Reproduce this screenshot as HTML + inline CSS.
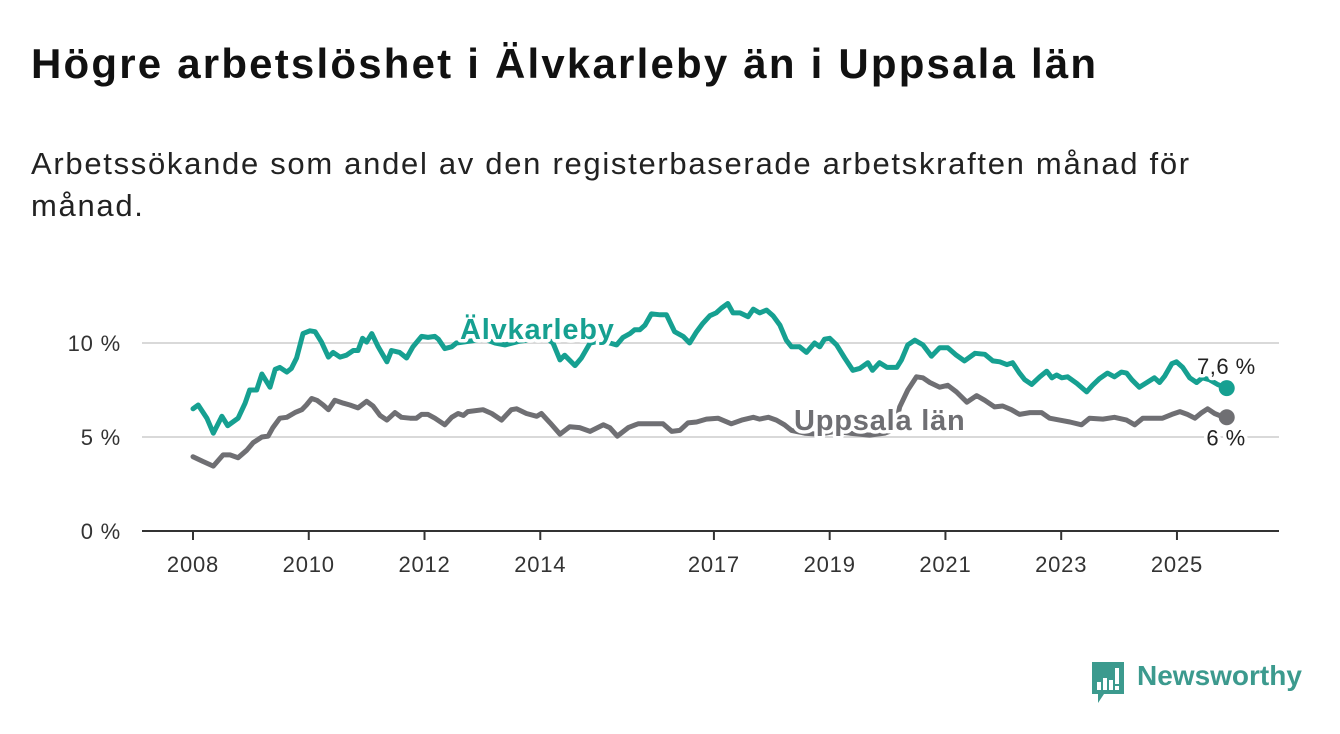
<!DOCTYPE html>
<html><head><meta charset="utf-8">
<style>
html,body{margin:0;padding:0;background:#fff;}
body{width:1340px;height:734px;overflow:hidden;position:relative;font-family:"Liberation Sans",sans-serif;color:#111;}
#title{position:absolute;left:31px;top:40px;font-size:42px;font-weight:bold;margin:0;letter-spacing:2.2px;white-space:nowrap;}
#subtitle{position:absolute;left:31px;top:143px;font-size:31px;line-height:42px;width:1240px;margin:0;color:#222;letter-spacing:1.7px;}
svg{position:absolute;left:0;top:0;}
</style></head><body>
<h1 id="title">Högre arbetslöshet i Älvkarleby än i Uppsala län</h1>
<p id="subtitle">Arbetssökande som andel av den registerbaserade arbetskraften månad för månad.</p>
<svg id="chart" width="1340" height="734"></svg>
<script>
// years since Jan 2008
const tAlv=[0,0.09,0.24,0.35,0.50,0.60,0.78,0.90,0.98,1.10,1.19,1.33,1.42,1.50,1.62,1.70,1.79,1.90,2.02,2.11,2.22,2.34,2.42,2.54,2.65,2.77,2.85,2.93,3.00,3.09,3.20,3.35,3.43,3.57,3.69,3.80,3.95,4.06,4.18,4.24,4.35,4.47,4.55,4.78,5.04,5.22,5.39,5.65,5.91,6.08,6.22,6.34,6.42,6.60,6.71,6.86,7.03,7.20,7.32,7.43,7.55,7.63,7.72,7.81,7.92,8.07,8.18,8.32,8.47,8.58,8.70,8.81,8.93,9.04,9.13,9.24,9.33,9.45,9.59,9.68,9.79,9.91,10.02,10.14,10.25,10.34,10.48,10.60,10.74,10.83,10.91,11.00,11.12,11.26,11.40,11.52,11.66,11.74,11.86,11.99,12.16,12.24,12.35,12.47,12.61,12.76,12.90,13.04,13.19,13.33,13.51,13.68,13.82,13.94,14.06,14.16,14.28,14.37,14.49,14.63,14.75,14.84,14.92,15.01,15.11,15.27,15.44,15.54,15.66,15.80,15.92,16.04,16.13,16.22,16.35,16.48,16.61,16.70,16.79,16.91,16.99,17.10,17.22,17.34,17.44,17.56,17.70,17.86];
const vAlv=[6.5,6.7,6.0,5.2,6.1,5.6,6.0,6.8,7.5,7.5,8.35,7.65,8.6,8.7,8.45,8.65,9.2,10.5,10.65,10.6,10.05,9.25,9.5,9.25,9.35,9.6,9.6,10.25,10.05,10.5,9.8,9.0,9.6,9.5,9.2,9.8,10.35,10.3,10.35,10.2,9.7,9.8,10.0,10.1,10.2,10.0,9.9,10.1,10.2,10.3,10.0,9.1,9.35,8.8,9.2,10.0,10.1,10.0,9.9,10.3,10.5,10.7,10.7,10.95,11.55,11.5,11.5,10.6,10.35,10.0,10.6,11.05,11.45,11.6,11.85,12.1,11.6,11.6,11.4,11.8,11.6,11.75,11.45,10.95,10.15,9.8,9.8,9.5,10.0,9.8,10.2,10.25,9.9,9.2,8.55,8.65,8.95,8.55,8.95,8.7,8.7,9.1,9.9,10.15,9.9,9.3,9.75,9.75,9.35,9.05,9.45,9.4,9.05,9.0,8.85,8.95,8.4,8.05,7.8,8.2,8.5,8.15,8.3,8.15,8.2,7.85,7.4,7.75,8.1,8.4,8.2,8.45,8.4,8.05,7.65,7.9,8.15,7.9,8.25,8.9,9.0,8.7,8.15,7.9,8.15,8.05,7.8,7.6];
const tUpp=[0,0.17,0.35,0.52,0.64,0.78,0.93,1.04,1.19,1.30,1.38,1.50,1.62,1.76,1.88,1.96,2.05,2.14,2.25,2.34,2.45,2.60,2.71,2.85,3.00,3.11,3.23,3.35,3.49,3.60,3.75,3.86,3.95,4.06,4.18,4.35,4.47,4.58,4.67,4.75,5.01,5.16,5.33,5.50,5.59,5.76,5.94,6.02,6.17,6.34,6.51,6.68,6.86,7.09,7.20,7.33,7.52,7.69,7.92,8.12,8.27,8.41,8.55,8.70,8.87,9.07,9.30,9.48,9.68,9.79,9.94,10.08,10.22,10.34,10.57,10.83,11.09,11.35,11.69,11.95,12.12,12.21,12.35,12.50,12.61,12.73,12.90,13.04,13.19,13.37,13.54,13.68,13.85,13.99,14.14,14.28,14.46,14.66,14.80,14.97,15.15,15.35,15.49,15.72,15.92,16.13,16.27,16.41,16.75,16.91,17.05,17.18,17.31,17.43,17.53,17.65,17.77,17.86];
const vUpp=[3.95,3.7,3.45,4.05,4.05,3.9,4.3,4.7,5.0,5.05,5.5,6.0,6.05,6.3,6.45,6.7,7.05,6.95,6.7,6.45,6.95,6.8,6.7,6.55,6.9,6.65,6.15,5.9,6.3,6.05,6.0,6.0,6.2,6.2,6.0,5.65,6.05,6.25,6.15,6.35,6.45,6.25,5.9,6.45,6.5,6.25,6.1,6.25,5.75,5.15,5.55,5.5,5.3,5.65,5.5,5.05,5.5,5.7,5.7,5.7,5.3,5.35,5.75,5.8,5.95,6.0,5.7,5.9,6.05,5.95,6.05,5.9,5.65,5.35,5.2,5.15,5.3,5.2,5.1,5.2,5.4,6.6,7.5,8.2,8.15,7.9,7.65,7.75,7.4,6.85,7.2,6.95,6.6,6.65,6.45,6.2,6.3,6.3,6.0,5.9,5.8,5.65,6.0,5.95,6.05,5.9,5.65,6.0,6.0,6.2,6.35,6.2,6.0,6.3,6.5,6.25,6.1,6.05];
const yTicks=[0,5,10];
const yTickLabels=["0 %","5 %","10 %"];
const xTicks=[2008,2010,2012,2014,2017,2019,2021,2023,2025];
const endLabels=["7,6 %","6 %"];

const NS="http://www.w3.org/2000/svg";
const svg=document.getElementById('chart');
const X=t=>193+t*57.88;              // t = years since 2008
const XY=yr=>X(yr-2008);
const Y=v=>531-v*18.8;
function mk(tag,attrs,parent){const e=document.createElementNS(NS,tag);for(const k in attrs)e.setAttribute(k,attrs[k]);(parent||svg).appendChild(e);return e;}

yTicks.forEach((v,i)=>{
  if(v>0){const g=mk('line',{x1:142,x2:1279,y1:Y(v),y2:Y(v),stroke:'#d9d9d9','stroke-width':2});
  
  }
  const t=mk('text',{x:121,y:Y(v)+8,'text-anchor':'end','font-size':22,'letter-spacing':0.8,fill:'#333','font-family':'Liberation Sans, sans-serif'});
  t.textContent=yTickLabels[i];
  
  
});
const ax=mk('line',{x1:142,x2:1279,y1:531,y2:531,stroke:'#333','stroke-width':2});


xTicks.forEach(yr=>{
  const tk=mk('line',{x1:XY(yr),x2:XY(yr),y1:531,y2:540,stroke:'#333','stroke-width':2});
  
  
  const t=mk('text',{x:XY(yr),y:572,'text-anchor':'middle','font-size':22,'letter-spacing':0.8,fill:'#333','font-family':'Liberation Sans, sans-serif'});
  t.textContent=yr;
  
  
});
function line(ts,vs,color,name){
  const d=ts.map((t,i)=>(i?'L':'M')+X(t).toFixed(1)+','+Y(vs[i]).toFixed(1)).join('');
  const p=mk('path',{d:d,fill:'none',stroke:color,'stroke-width':5,'stroke-linejoin':'round','stroke-linecap':'round'});
  
  
  const n=ts.length-1;
  const c=mk('circle',{cx:X(ts[n]),cy:Y(vs[n]),r:8,fill:color});
  
  
}
line(tUpp,vUpp,'#6f6f73','uppsala-line');
line(tAlv,vAlv,'#16a091','alvkarleby-line');
function label(txt,x,y,color,size,bold,name,anchor,ls){
  const t=mk('text',{x:x,y:y,'font-size':size,fill:color,'font-weight':bold?'bold':'normal',stroke:'#fff','stroke-width':7,'paint-order':'stroke','stroke-linejoin':'round','text-anchor':anchor||'start','letter-spacing':ls||0,'font-family':'Liberation Sans, sans-serif'});
  t.textContent=txt;
  
  
}
label('Älvkarleby',460,339,'#16a091',29,true,'alvkarleby-label','start',0.8);
label('Uppsala län',794,430,'#6f6f73',29,true,'uppsala-label','start',0.8);
const nA=tAlv.length-1,nU=tUpp.length-1;
label(endLabels[0],X(tAlv[nA])+29,Y(vAlv[nA])-14,'#222',22,false,'alvkarleby-end-value','end',0.5);
label(endLabels[1],X(tUpp[nU])+19,Y(vUpp[nU])+28,'#222',22,false,'uppsala-end-value','end',0.5);
</script>
<div style="position:absolute;left:1090px;top:662px;">
<svg width="36" height="42" viewBox="0 0 36 42" style="position:static">
<path d="M2 0H34V32H14L8 41V32H2Z" fill="#3c9a8e"/>
<rect x="7" y="20" width="4" height="8" fill="#fff"/><rect x="13" y="16" width="4" height="12" fill="#fff"/><rect x="19" y="18" width="4" height="10" fill="#fff"/><rect x="25" y="6" width="4" height="16" fill="#fff"/><rect x="25" y="24" width="4" height="4" fill="#fff"/>
</svg>
</div>
<div style="position:absolute;left:1137px;top:660px;font-size:28px;color:#3c9a8e;font-weight:bold;">Newsworthy</div>
</body></html>
